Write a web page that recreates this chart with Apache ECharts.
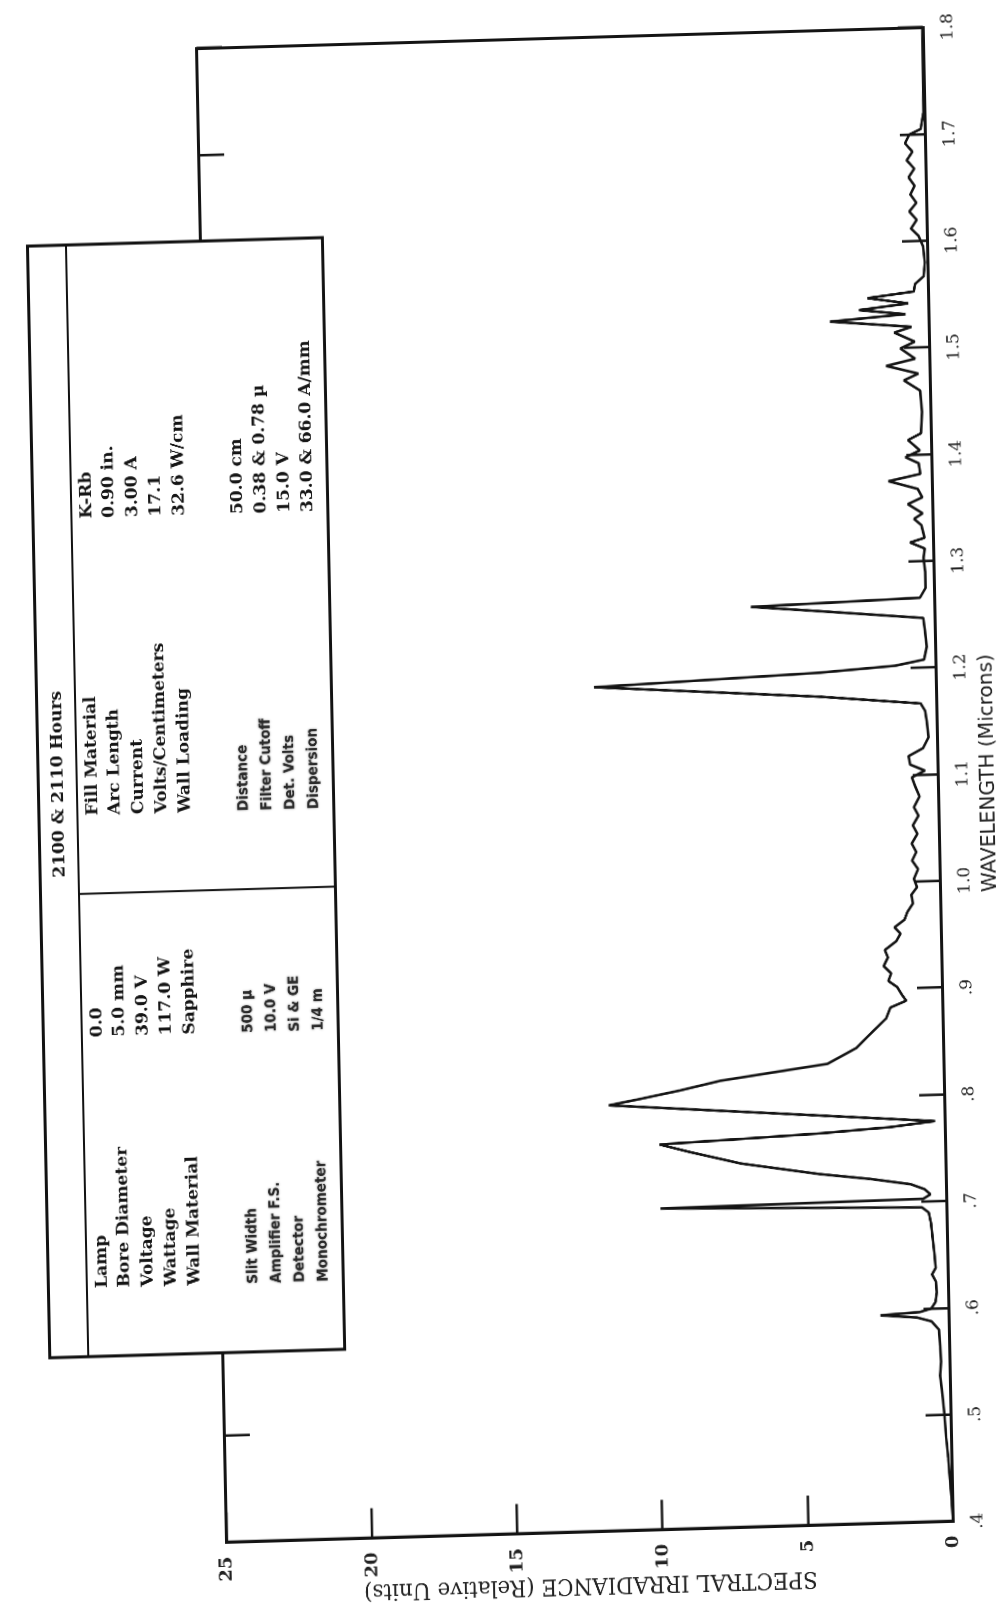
<!DOCTYPE html>
<html>
<head>
<meta charset="utf-8">
<script src="https://cdn.jsdelivr.net/npm/echarts@6/dist/echarts.min.js"></script>
<style>
  html, body { margin: 0; padding: 0; background: #fff; width: 1008px; height: 1612px; overflow: hidden; }
  #chart { position: absolute; left: 0; top: 0; width: 1620px; height: 1040px; transform-origin: 0 0; }
</style>
</head>
<body>
<div id="chart"></div>
<script>
// Tick labels
const wavelengthTickLabels = ['.4', '.5', '.6', '.7', '.8', '.9', '1.0', '1.1', '1.2', '1.3', '1.4', '1.5', '1.6', '1.7', '1.8'];
const irradianceTickLabels = ['0', '5', '10', '15', '20', '25'];

// Spectrum: wavelength (microns)
const wavelength = [
  0.400, 0.420, 0.440, 0.460, 0.480, 0.500, 0.520, 0.537, 0.550, 0.565,
  0.580, 0.588, 0.592, 0.595, 0.597, 0.600, 0.606, 0.615, 0.625, 0.632,
  0.638, 0.650, 0.665, 0.680, 0.690, 0.695, 0.701, 0.703, 0.707, 0.712,
  0.717, 0.723, 0.729, 0.741, 0.753, 0.761, 0.764, 0.767, 0.771, 0.7755,
  0.799, 0.804, 0.811, 0.819, 0.825, 0.832, 0.846, 0.859, 0.873, 0.883,
  0.889, 0.895, 0.902, 0.908, 0.915, 0.922, 0.930, 0.937, 0.945, 0.952,
  0.958, 0.965, 0.972, 0.980, 0.988, 0.995, 1.003, 1.012, 1.020, 1.028,
  1.036, 1.045, 1.053, 1.062, 1.070, 1.080, 1.090, 1.098, 1.104, 1.110,
  1.118, 1.125, 1.135, 1.150, 1.160, 1.167, 1.176, 1.191, 1.1985, 1.203,
  1.208, 1.220, 1.235, 1.247, 1.256, 1.262, 1.266, 1.275, 1.290, 1.303,
  1.312, 1.318, 1.322, 1.334, 1.340, 1.345, 1.354, 1.360, 1.368, 1.376,
  1.382, 1.392, 1.398, 1.404, 1.414, 1.420, 1.440, 1.460, 1.470, 1.476,
  1.484, 1.490, 1.500, 1.506, 1.515, 1.520, 1.527, 1.532, 1.537, 1.542,
  1.548, 1.553, 1.560, 1.567, 1.580, 1.595, 1.605, 1.612, 1.620, 1.628,
  1.636, 1.644, 1.652, 1.660, 1.668, 1.676, 1.684, 1.692, 1.700, 1.705,
  1.720, 1.800
];
// Relative spectral irradiance at each wavelength
const irradiance = [
  0.00, 0.03, 0.08, 0.12, 0.18, 0.22, 0.28, 0.34, 0.30, 0.32,
  0.35, 0.60, 1.10, 2.35, 1.00, 0.60, 0.45, 0.40, 0.42, 0.55,
  0.42, 0.45, 0.50, 0.55, 0.62, 0.85, 9.85, 0.80, 0.55, 0.75,
  1.22, 2.60, 4.36, 7.05, 8.78, 9.83, 7.00, 4.33, 1.90, 0.34,
  11.55, 10.50, 9.10, 7.70, 6.00, 4.00, 3.00, 2.50, 1.95, 1.80,
  1.25, 1.40, 1.55, 1.85, 1.75, 2.00, 1.85, 1.95, 1.55, 1.40,
  1.60, 1.25, 1.15, 0.95, 1.00, 0.80, 0.90, 0.75, 0.95, 0.80,
  0.95, 0.75, 0.90, 0.70, 0.85, 0.65, 0.80, 0.90, 0.45, 0.95,
  1.00, 0.50, 0.30, 0.35, 0.40, 0.55, 4.00, 11.77, 4.00, 1.40,
  0.40, 0.30, 0.35, 0.40, 3.90, 6.32, 0.50, 0.30, 0.30, 0.35,
  0.30, 0.80, 0.30, 0.40, 0.65, 0.35, 0.85, 0.35, 0.50, 1.50,
  0.40, 0.45, 0.90, 0.40, 0.80, 0.35, 0.30, 0.35, 0.90, 0.40,
  1.50, 0.50, 1.00, 0.50, 1.20, 0.60, 3.40, 0.80, 2.40, 0.70,
  2.10, 0.50, 0.45, 0.15, 0.10, 0.15, 0.30, 0.55, 0.35, 0.60,
  0.35, 0.55, 0.40, 0.60, 0.40, 0.65, 0.45, 0.70, 0.55, 0.15,
  0.05, 0.02
];

// Test conditions table
const tableTitle = '2100 & 2110 Hours';
const lampLabels = ['Lamp', 'Bore Diameter', 'Voltage', 'Wattage', 'Wall Material'];
const lampValues = ['0.0', '5.0 mm', '39.0 V', '117.0 W', 'Sapphire'];
const instrumentLabels = ['Slit Width', 'Amplifier F.S.', 'Detector', 'Monochrometer'];
const instrumentValues = ['500 \u00b5', '10.0 V', 'Si & GE', '1/4 m'];
const fillLabels = ['Fill Material', 'Arc Length', 'Current', 'Volts/Centimeters', 'Wall Loading'];
const fillValues = ['K-Rb', '0.90 in.', '3.00 A', '17.1', '32.6 W/cm'];
const setupLabels = ['Distance', 'Filter Cutoff', 'Det. Volts', 'Dispersion'];
const setupValues = ['50.0 cm', '0.38 & 0.78 \u00b5', '15.0 V', '33.0 & 66.0 A/mm'];

// Plot area inside the drawing surface
const GRID = { left: 100, top: 215, width: 1489, height: 746 };

// The sheet is turned on its side and slightly sheared on the page:
// page positions of the plot origin (0.4 um, 0), of (1.8 um, 0) and of (0.4 um, 25)
const PAGE = { origin: [953, 1521.5], wlEnd: [923, 27.5], irrEnd: [226.5, 1542.5] };

const g = GRID;
(function placeSheet() {
  const [ox, oy] = PAGE.origin;
  const A1 = PAGE.wlEnd[0] - ox, B1 = PAGE.wlEnd[1] - oy;
  const A2 = PAGE.irrEnd[0] - ox, B2 = PAGE.irrEnd[1] - oy;
  const base = g.top + g.height;
  const a = A1 / g.width, b = B1 / g.width;
  const c = -A2 / g.height, d = -B2 / g.height;
  const e = ox - a * g.left + A2 * base / g.height;
  const f = oy - b * g.left + B2 * base / g.height;
  document.getElementById('chart').style.transform = 'matrix(' + [a, b, c, d, e, f].join(',') + ')';
})();

// Table geometry (drawing-surface pixels)
const TB = { x: 289, y: 37.5, w: 1108, h: 303, head: 39.5, split: 750, titleX: 860 };
const ROWS_A = [93, 116, 140, 164, 188];
const ROWS_B = [248, 272, 296, 320];
const COL = { lampLabel: 357, lampValue: 607, fillLabel: 828, fillValue: 1124 };
const serif = 'bold 17px "DejaVu Serif", "Liberation Serif", serif';
const narrow = 'bold 15px "DejaVu Sans Condensed", "Liberation Sans Narrow", "DejaVu Sans", sans-serif';
const TZ = 100;

function textItems(labels, xPos, rows, font, fill, soft) {
  return labels.map((t, i) => {
    const style = { text: t, font: font, fill: fill || '#151515', align: 'left', verticalAlign: 'middle' };
    if (soft) { style.textShadowColor = 'rgba(0,0,0,0.45)'; style.textShadowBlur = 2; }
    return { type: 'text', x: xPos, y: rows[i], z: TZ, style: style };
  });
}

const tableItems = [
  { type: 'rect', z: TZ, shape: { x: TB.x, y: TB.y, width: TB.w, height: TB.h },
    style: { fill: '#fff', stroke: '#111', lineWidth: 3 } },
  { type: 'line', z: TZ, shape: { x1: TB.x, y1: TB.y + TB.head, x2: TB.x + TB.w, y2: TB.y + TB.head },
    style: { stroke: '#111', lineWidth: 2 } },
  { type: 'line', z: TZ, shape: { x1: TB.split, y1: TB.y + TB.head, x2: TB.split, y2: TB.y + TB.h },
    style: { stroke: '#111', lineWidth: 2 } },
  { type: 'text', z: TZ, x: TB.titleX, y: TB.y + TB.head / 2 + 1,
    style: { text: tableTitle, font: serif, fill: '#151515', align: 'center', verticalAlign: 'middle' } }
]
  .concat(textItems(lampLabels, COL.lampLabel, ROWS_A, serif))
  .concat(textItems(lampValues, COL.lampValue, ROWS_A, serif))
  .concat(textItems(instrumentLabels, COL.lampLabel, ROWS_B, narrow, '#2a2a2a', true))
  .concat(textItems(instrumentValues, COL.lampValue, ROWS_B, narrow, '#2a2a2a', true))
  .concat(textItems(fillLabels, COL.fillLabel, ROWS_A, serif))
  .concat(textItems(fillValues, COL.fillValue, ROWS_A, serif))
  .concat(textItems(setupLabels, COL.fillLabel, ROWS_B, narrow, '#2a2a2a', true))
  .concat(textItems(setupValues, COL.fillValue, ROWS_B, serif));

const chart = echarts.init(document.getElementById('chart'), null, { renderer: 'canvas', devicePixelRatio: 2 });

const ink = '#141414';
chart.setOption({
  animation: false,
  backgroundColor: '#fff',
  grid: {
    left: g.left, top: g.top, width: g.width, height: g.height,
    show: true, borderColor: ink, borderWidth: 3, backgroundColor: 'transparent'
  },
  xAxis: [
    {
      type: 'value', min: 0.4, max: 1.8, interval: 0.1, position: 'bottom',
      axisLine: { show: true, onZero: false, lineStyle: { color: ink, width: 3 } },
      axisTick: { show: true, inside: true, length: 26, lineStyle: { color: ink, width: 2.5 } },
      axisLabel: {
        margin: 17, color: '#222', fontFamily: '"DejaVu Serif", serif', fontSize: 17,
        formatter: v => wavelengthTickLabels[Math.round((v - 0.4) * 10)]
      },
      splitLine: { show: false },
      name: 'WAVELENGTH (Microns)', nameLocation: 'middle', nameGap: 42,
      nameTextStyle: { color: '#222', fontFamily: '"DejaVu Sans", sans-serif', fontSize: 20 }
    },
    {
      type: 'value', min: 0.4, max: 1.8, interval: 0.1, position: 'top',
      axisLine: { show: false, onZero: false },
      axisTick: { show: true, inside: true, length: 26, lineStyle: { color: ink, width: 2.5 } },
      axisLabel: { show: false },
      splitLine: { show: false }
    }
  ],
  yAxis: [
    {
      type: 'value', min: 0, max: 25, interval: 5, position: 'left',
      axisLine: { show: true, onZero: false, lineStyle: { color: ink, width: 3 } },
      axisTick: { show: true, inside: true, length: 30, lineStyle: { color: ink, width: 2.5 } },
      axisLabel: {
        margin: 14, color: '#222', fontFamily: '"DejaVu Serif", serif', fontWeight: 'bold', fontSize: 18,
        formatter: v => irradianceTickLabels[Math.round(v / 5)]
      },
      splitLine: { show: false },
      name: 'SPECTRAL IRRADIANCE (Relative Units)', nameLocation: 'middle', nameGap: 41, nameRotate: 90,
      nameMoveOverlap: false,
      nameTextStyle: { color: '#222', fontFamily: '"DejaVu Serif", serif', fontSize: 22 }
    }
  ],
  series: [
    {
      type: 'line',
      data: wavelength.map((w, i) => [w, irradiance[i]]),
      showSymbol: false,
      lineStyle: { color: ink, width: 2.6 },
      z: 3
    }
  ],
  graphic: tableItems
});
</script>
</body>
</html>
